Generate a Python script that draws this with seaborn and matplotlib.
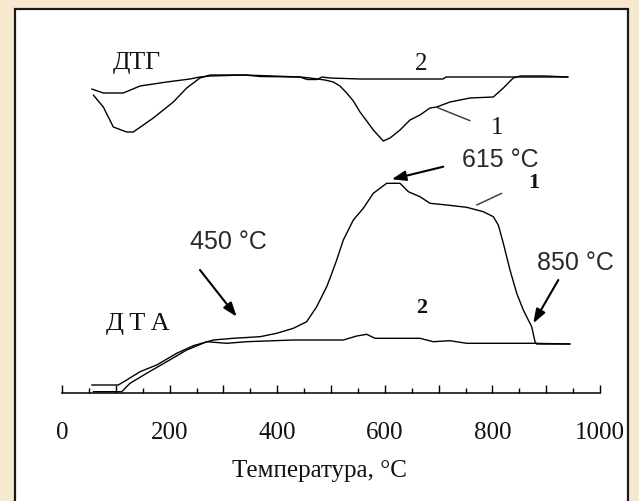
import matplotlib
matplotlib.use("Agg")
import matplotlib.pyplot as plt
import seaborn as sns
import pandas as pd
from matplotlib.patches import Rectangle
from matplotlib.ticker import MultipleLocator, FuncFormatter

sns.set_theme(style="white")
plt.rcParams['font.family'] = ['Liberation Serif', 'DejaVu Serif']

# ---- Thermal analysis curves (temperature in °C, signal in arbitrary units) ----
# DTG, sample 1 (deep peaks)
dtg1_t = [58.2, 76.8, 95.4, 120.3, 132.5, 169.7, 206.9, 231.8, 256.5, 275.1, 340.1,
          368.0, 442.4, 461.0, 488.8, 504.3, 516.7, 529.2, 541.5, 553.9, 566.4, 578.6,
          597.2, 609.7, 628.3, 646.8, 665.4, 684.0, 696.5, 721.2, 758.4, 801.7, 820.3,
          838.8, 851.3, 897.8, 940.5]
dtg1_s = [29.8, 28.6, 26.6, 26.1, 26.1, 27.5, 29.1, 30.5, 31.5, 31.8, 31.8,
          31.65, 31.6, 31.5, 31.3, 31.1, 30.7, 30.0, 29.2, 28.1, 27.2, 26.3,
          25.2, 25.5, 26.3, 27.3, 27.8, 28.5, 28.6, 29.1, 29.5, 29.6, 30.5,
          31.5, 31.7, 31.7, 31.6]

# DTG, sample 2 (shallow)
dtg2_t = [55.2, 76.8, 113.9, 145.0, 194.6, 237.9, 256.5, 275.1, 340.1, 442.4, 455.4,
          474.0, 483.3, 498.1, 553.9, 708.2, 713.8, 940.5]
dtg2_s = [30.4, 30.0, 30.0, 30.7, 31.1, 31.4, 31.6, 31.7, 31.8, 31.6, 31.35,
          31.35, 31.6, 31.5, 31.4, 31.4, 31.6, 31.6]

# DTA, sample 1
dta1_t = [55.2, 104.6, 120.3, 145.0, 176.0, 213.2, 244.1, 281.2, 318.4, 368.0, 399.1,
          429.9, 454.8, 473.4, 492.0, 498.1, 510.6, 522.9, 541.5, 560.0, 578.6, 603.5,
          628.3, 643.7, 665.4, 684.0, 715.1, 752.2, 783.1, 801.7, 811.0, 820.3, 832.7,
          845.2, 857.4, 873.0, 879.2, 882.3, 944.2]
dta1_s = [0.8, 0.8, 1.3, 2.13, 2.8, 3.97, 4.73, 5.3, 5.47, 5.63, 5.97,
          6.47, 7.13, 8.63, 10.63, 11.47, 13.3, 15.3, 17.3, 18.47, 19.97, 20.97,
          20.97, 20.13, 19.63, 18.97, 18.8, 18.57, 18.13, 17.63, 16.8, 14.97, 12.3,
          9.97, 8.3, 6.63, 5.13, 4.9, 4.9]

# DTA, sample 2
dta2_t = [58.2, 111.0, 126.4, 157.4, 194.6, 231.8, 269.0, 306.1, 343.3, 429.9, 522.9,
          547.8, 566.4, 581.8, 665.4, 690.1, 721.2, 752.2, 876.0, 944.2]
dta2_s = [0.13, 0.13, 0.97, 1.97, 3.13, 4.3, 5.13, 4.97, 5.13, 5.3, 5.3,
          5.7, 5.87, 5.47, 5.47, 5.13, 5.23, 4.97, 4.97, 4.9]

tick_major = 100
tick_minor = 50
tick_label_step = 200

W, H = 639, 501
fig = plt.figure(figsize=(W / 100, H / 100), dpi=100)
fig.patch.set_facecolor('#f7e9cf')

# white framed panel behind the axes
panel = Rectangle((15 / W, -0.05), (628 - 15) / W, (501 - 9) / H + 0.05,
                  transform=fig.transFigure, facecolor='white',
                  edgecolor='#1a1a1a', linewidth=1.6, zorder=-5)
fig.patches.append(panel)

ax = fig.add_axes([62 / W, (501 - 393) / H, 538 / W, 384 / H])
ax.set_zorder(2)
ax.set_facecolor('none')
ax.patch.set_alpha(0)

for t, s in [(dtg1_t, dtg1_s), (dtg2_t, dtg2_s), (dta1_t, dta1_s), (dta2_t, dta2_s)]:
    df = pd.DataFrame({'T': t, 'S': s})
    sns.lineplot(data=df, x='T', y='S', ax=ax, color='black', linewidth=1.0,
                 estimator=None, sort=False)

ax.set_xlim(0, 1000)
ax.set_ylim(0, 38.4)
ax.set_ylabel('')
ax.set_yticks([])
for side in ('left', 'top', 'right'):
    ax.spines[side].set_visible(False)
ax.spines['bottom'].set_color('black')
ax.spines['bottom'].set_linewidth(1.1)

ax.xaxis.set_major_locator(MultipleLocator(tick_major))
ax.xaxis.set_minor_locator(MultipleLocator(tick_minor))
ax.xaxis.set_major_formatter(FuncFormatter(
    lambda v, p: f'{int(round(v))}' if int(round(v)) % tick_label_step == 0 else ''))
ax.tick_params(axis='x', which='major', direction='in', length=6, width=1.0,
               color='black', pad=21, labelsize=18, labelcolor='#111111', bottom=True)
ax.tick_params(axis='x', which='minor', direction='in', length=3.5, width=1.0,
               color='black', bottom=True)

ax.set_xlabel('Температура, °C', fontsize=18, color='#111111')
ax.xaxis.set_label_coords((319 - 62) / 538, -0.175)

serif = dict(family=['Liberation Serif', 'DejaVu Serif'], color='#111111')
sans = dict(family=['Liberation Sans', 'DejaVu Sans'], color='#2a2a2a')

ax.text(139.4, 33.0, 'ДТГ', fontsize=18.5, ha='center', va='center', **serif)
ax.text(140.3, 6.9, 'Д\u2009Т\u2009А', fontsize=19, ha='center', va='center', **serif)
ax.text(667, 32.9, '2', fontsize=18, ha='center', va='center', **serif)
ax.text(808.6, 26.5, '1', fontsize=18, ha='center', va='center', **serif)
ax.text(877.3, 21.0, '1', fontsize=16, ha='center', va='center', fontweight='bold', **serif)
ax.text(669.1, 8.5, '2', fontsize=16, ha='center', va='center', fontweight='bold', **serif)

# leader lines from curve numbers
ax.plot([696.5, 758.4], [28.57, 27.23], color='#333333', linewidth=1.0)
ax.plot([770.8, 817.3], [18.8, 19.97], color='#333333', linewidth=1.0)

arrow = dict(arrowstyle='-|>,head_length=0.7,head_width=0.25', color='black',
             linewidth=1.5, shrinkA=0, shrinkB=0)
ax.text(814, 23.3, '615 °C', fontsize=18, ha='center', va='center', **sans)
ax.annotate('', xy=(612.8, 21.37), xytext=(708.7, 22.63), arrowprops=arrow)
ax.text(308.6, 15.1, '450 °C', fontsize=18, ha='center', va='center', **sans)
ax.annotate('', xy=(324.7, 7.63), xytext=(256.5, 12.3), arrowprops=arrow)
ax.text(953.5, 13.0, '850 °C', fontsize=18, ha='center', va='center', **sans)
ax.annotate('', xy=(876.0, 6.97), xytext=(922.5, 11.3), arrowprops=arrow)

fig.savefig('out.png', dpi=100, facecolor=fig.get_facecolor())
